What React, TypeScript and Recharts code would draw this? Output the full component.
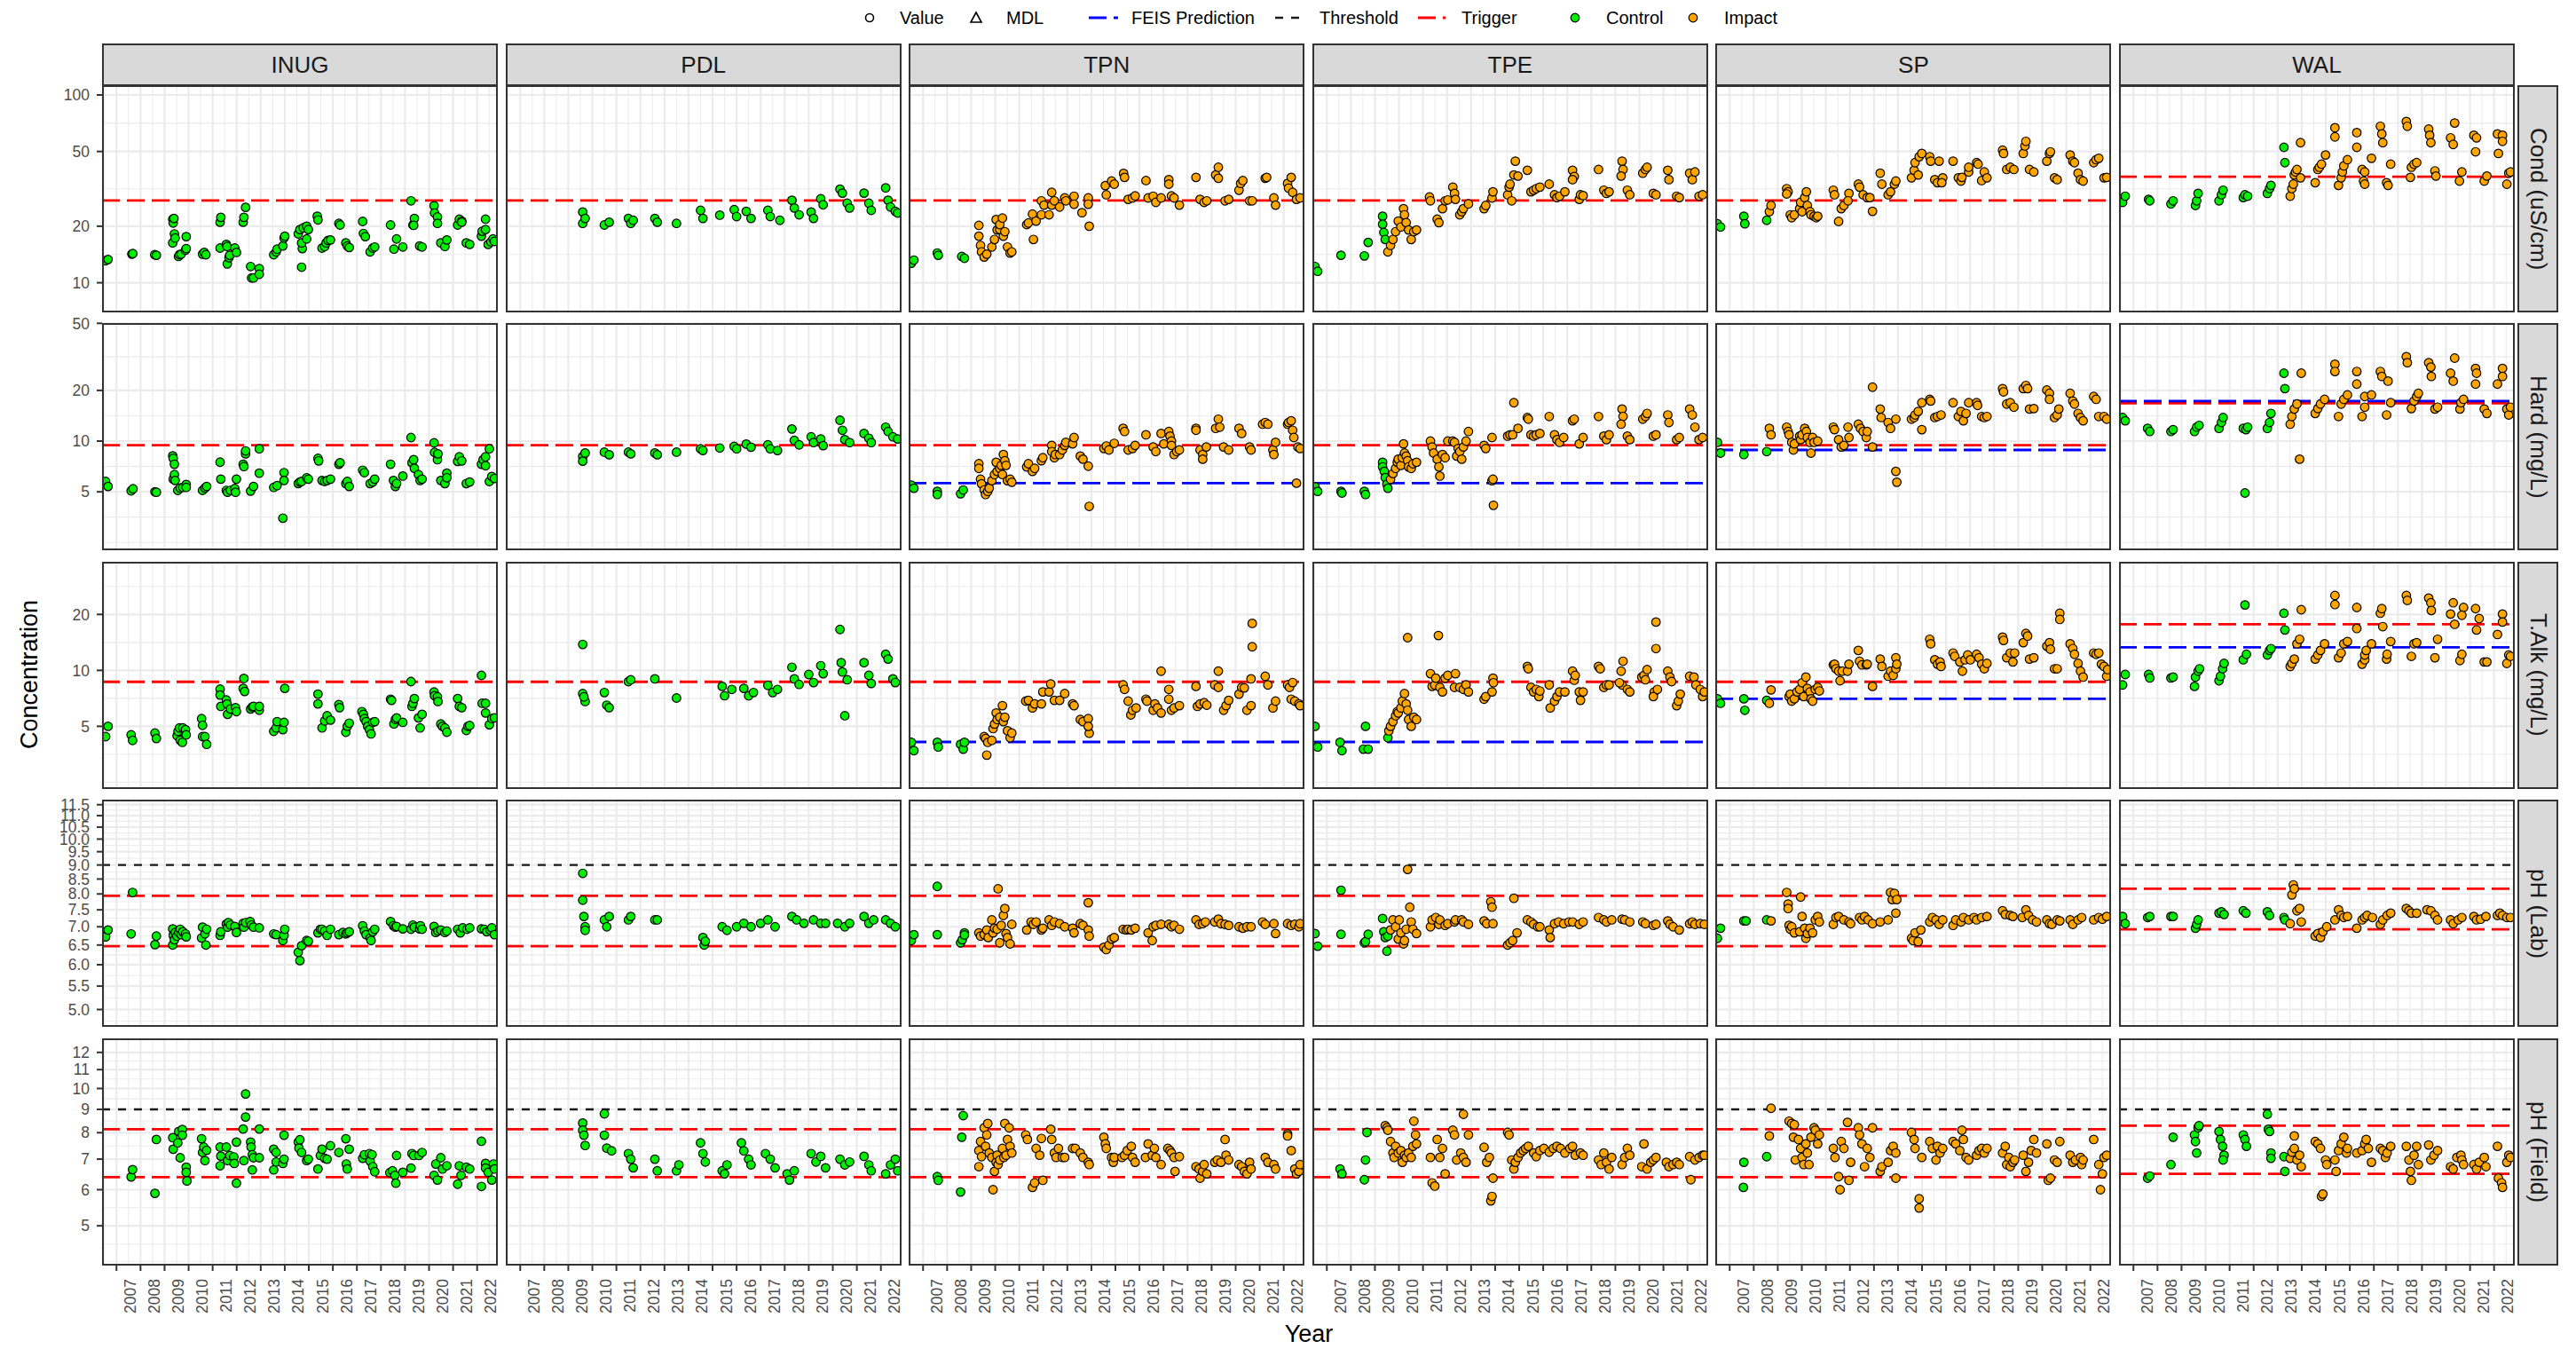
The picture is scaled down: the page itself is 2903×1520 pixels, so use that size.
import React from "react";
import { ScatterChart, Scatter, XAxis, YAxis, CartesianGrid, ReferenceLine } from "recharts";

const FONT = '"Liberation Sans", Arial, "DejaVu Sans", sans-serif';

// layout (px)
const PANEL_W = 446;
const PANEL_H = 256;
const COL_X0 = 115;
const COL_STEP = 454.6;
const ROW_Y0 = 96;
const ROW_STEP = 268.4;
const PAD_T = 14; // room above plot for edge tick labels
const PAD_R = 30; // room right of plot for the last year label

const SITES = ["INUG", "PDL", "TPN", "TPE", "SP", "WAL"];
const PARAMS = ["Cond (uS/cm)", "Hard (mg/L)", "T.Alk (mg/L)", "pH (Lab)", "pH (Field)"];

const YEARS = [2007, 2008, 2009, 2010, 2011, 2012, 2013, 2014, 2015, 2016, 2017, 2018, 2019, 2020, 2021, 2022];
const YEAR_MINOR = [2006.5, 2007.5, 2008.5, 2009.5, 2010.5, 2011.5, 2012.5, 2013.5, 2014.5, 2015.5, 2016.5, 2017.5, 2018.5, 2019.5, 2020.5, 2021.5, 2022.5];
const X_DOMAIN = [2006.4, 2022.86];
const BASE_YEAR = 2000;

// y scales (log10) per row
const COND_TICKS = [10, 20, 50, 100];
const COND_MINOR = [7.07, 14.14, 31.62, 70.71];
const HARD_TICKS = [5, 10, 20, 50];
const HARD_MINOR = [2.5, 3.54, 7.07, 14.14, 31.62];
const ALK_TICKS = [5, 10, 20];
const ALK_MINOR = [2.5, 3.54, 7.07, 14.14, 28.28];
const PHLAB_TICKS = [5.0, 5.5, 6.0, 6.5, 7.0, 7.5, 8.0, 8.5, 9.0, 9.5, 10.0, 10.5, 11.0, 11.5];
const PHLAB_MINOR = [4.77, 5.24, 5.74, 6.24, 6.74, 7.25, 7.75, 8.25, 8.75, 9.25, 9.75, 10.25, 10.75, 11.25];
const PHF_TICKS = [5, 6, 7, 8, 9, 10, 11, 12];
const PHF_MINOR = [4.17, 4.56, 5.48, 6.48, 7.48, 8.49, 9.49, 10.49, 11.49];

const ROW_DOMAINS = [[6.95, 112.7], [2.25, 50.2], [2.3, 38.4], [4.66, 11.74], [4.09, 12.88]];

// reference lines per site (INUG, PDL, TPN, TPE, SP, WAL)
const COND_TRIGGER = [27.4, 27.4, 27.4, 27.4, 27.4, 36.7];
const HARD_TRIGGER = [9.45, 9.45, 9.45, 9.45, 9.45, 16.8];
const HARD_FEIS = [null, null, 5.63, 5.63, 8.86, 17.3];
const ALK_TRIGGER = [8.68, 8.68, 8.68, 8.68, 8.68, 17.7];
const ALK_FEIS = [null, null, 4.12, 4.12, 7.03, 13.3];
const PH_THRESHOLD = [9, 9, 9, 9, 9, 9];
const PHLAB_TRIGGER_HI = [7.94, 7.94, 7.94, 7.94, 7.94, 8.17];
const PHLAB_TRIGGER_LO = [6.47, 6.47, 6.47, 6.47, 6.47, 6.93];
const PHF_TRIGGER_HI = [8.14, 8.14, 8.14, 8.14, 8.14, 8.29];
const PHF_TRIGGER_LO = [6.39, 6.39, 6.39, 6.39, 6.39, 6.5];

// observations: flat [yearOffset, value, ...], year = 2000 + offset
const INUG_COND = [6.55,13.1, 6.65,13.3, 7.64,14.2, 7.68,14.3, 8.59,14.1, 8.66,14.0, 9.34,16.3, 9.34,21.8, 9.36,20.8, 9.39,22.0, 9.41,18.2, 9.44,17.3, 9.58,13.8, 9.62,14.1, 9.69,14.2, 9.87,14.9, 9.9,15.2, 9.9,17.6, 10.58,14.2, 10.65,14.5, 10.72,14.1, 11.31,21.0, 11.34,22.3, 11.31,15.3, 11.57,16.0, 11.6,15.6, 11.61,12.6, 11.68,13.6, 11.71,14.0, 11.92,15.3, 11.99,14.5, 12.27,21.0, 12.3,22.3, 12.37,25.2, 12.58,12.2, 12.62,10.6, 12.7,10.6, 12.94,11.9, 12.94,11.1, 13.54,14.1, 13.64,14.6, 13.68,15.1, 13.92,15.7, 13.97,17.3, 14.0,17.7, 14.56,18.2, 14.63,19.2, 14.7,12.1, 14.73,15.2, 14.7,16.3, 14.77,19.6, 14.91,20.0, 14.98,19.2, 14.91,17.1, 15.35,22.6, 15.38,21.6, 15.55,15.3, 15.66,15.6, 15.72,16.3, 15.8,16.8, 15.9,16.9, 16.25,20.7, 16.3,20.3, 16.54,16.3, 16.6,15.7, 16.68,15.4, 17.24,21.2, 17.27,18.3, 17.35,17.6, 17.55,14.6, 17.66,15.3, 17.74,15.5, 18.4,20.3, 18.54,15.1, 18.65,17.1, 18.91,15.5, 19.25,27.3, 19.33,20.3, 19.39,22.0, 19.36,20.2, 19.61,15.7, 19.71,15.5, 20.21,25.7, 20.23,23.5, 20.35,22.4, 20.35,20.7, 20.49,16.3, 20.66,15.6, 20.74,16.9, 21.19,20.3, 21.26,21.8, 21.36,21.3, 21.36,21.0, 21.55,16.3, 21.69,16.0, 22.18,17.7, 22.21,18.8, 22.35,19.2, 22.35,21.8, 22.46,16.0, 22.57,16.5, 22.66,17.1, 22.72,16.6];
const INUG_HARD = [6.55,5.76, 6.65,5.38, 7.61,5.07, 7.69,5.21, 8.6,5.0, 8.66,4.97, 9.34,8.17, 9.36,7.9, 9.41,7.29, 9.36,5.95, 9.41,6.33, 9.44,5.84, 9.55,5.1, 9.65,5.27, 9.76,5.31, 9.9,5.53, 9.9,5.31, 10.58,5.1, 10.68,5.27, 10.75,5.38, 11.31,7.5, 11.34,5.95, 11.57,5.1, 11.62,4.97, 11.74,5.1, 11.92,5.23, 11.95,4.97, 11.99,5.95, 12.27,7.29, 12.3,7.06, 12.37,8.4, 12.37,8.75, 12.58,5.05, 12.7,5.38, 12.94,6.45, 12.94,9.0, 13.54,5.31, 13.68,5.44, 13.92,3.49, 13.97,6.5, 13.97,5.84, 14.56,5.6, 14.63,5.72, 14.7,5.76, 14.91,6.06, 14.98,5.95, 15.38,7.9, 15.41,7.63, 15.55,5.84, 15.66,5.76, 15.76,5.84, 15.9,5.95, 16.25,7.29, 16.3,7.44, 16.54,5.6, 16.6,5.76, 16.68,5.38, 17.24,6.72, 17.31,6.5, 17.55,5.6, 17.66,5.72, 17.74,5.95, 18.4,7.29, 18.52,5.84, 18.6,5.38, 18.65,5.6, 18.91,6.2, 19.25,10.5, 19.29,7.44, 19.36,7.76, 19.39,6.9, 19.56,6.33, 19.63,5.84, 19.71,5.95, 20.21,9.76, 20.23,8.57, 20.35,7.76, 20.37,8.4, 20.49,5.84, 20.66,5.6, 20.74,6.45, 20.74,6.06, 21.19,7.58, 21.26,8.07, 21.36,7.63, 21.55,5.6, 21.69,5.72, 22.18,7.29, 22.25,7.76, 22.35,8.07, 22.35,7.15, 22.51,9.0, 22.51,5.76, 22.61,6.17, 22.72,6.0];
const INUG_ALK = [6.55,4.4, 6.65,5.0, 7.61,4.5, 7.67,4.2, 8.6,4.6, 8.66,4.3, 9.52,4.45, 9.56,4.7, 9.62,4.9, 9.65,4.2, 9.74,4.1, 9.76,4.9, 9.87,4.8, 9.9,4.5, 10.54,5.5, 10.58,5.06, 10.58,4.4, 10.68,4.4, 10.75,4.0, 11.31,7.93, 11.31,7.37, 11.34,6.4, 11.57,6.93, 11.6,6.6, 11.62,5.8, 11.74,6.2, 11.95,6.3, 11.99,6.0, 12.3,9.05, 12.27,8.0, 12.33,7.7, 12.58,6.2, 12.65,6.35, 12.7,6.4, 12.94,6.1, 12.94,6.4, 13.54,4.7, 13.64,4.9, 13.68,5.3, 13.92,4.8, 13.97,5.25, 14.0,8.0, 15.38,7.45, 15.38,6.6, 15.55,4.9, 15.66,5.35, 15.76,5.7, 15.9,5.4, 16.25,6.55, 16.28,6.3, 16.54,4.65, 16.6,5.0, 16.68,5.2, 17.21,6.0, 17.27,5.8, 17.31,5.5, 17.38,5.3, 17.45,5.0, 17.52,4.8, 17.59,4.55, 17.66,5.25, 17.74,5.3, 18.4,7.0, 18.44,6.9, 18.54,5.15, 18.6,5.45, 18.65,5.55, 18.91,5.25, 19.25,8.7, 19.29,6.4, 19.33,6.65, 19.39,7.05, 19.56,5.55, 19.63,4.9, 19.71,5.8, 20.21,7.65, 20.23,7.3, 20.35,7.2, 20.37,6.8, 20.49,5.15, 20.56,5.0, 20.66,4.9, 20.74,4.65, 21.19,7.05, 21.26,6.4, 21.36,6.3, 21.55,4.75, 21.62,5.0, 21.69,5.05, 22.18,9.4, 22.21,6.65, 22.35,6.65, 22.35,5.9, 22.51,5.1, 22.61,5.5, 22.72,5.55];
const INUG_PHLAB = [6.55,6.72, 6.65,6.91, 7.67,8.05, 7.61,6.8, 8.6,6.51, 8.66,6.74, 9.34,6.94, 9.34,6.5, 9.36,6.76, 9.41,6.64, 9.45,6.84, 9.51,6.74, 9.59,6.84, 9.65,6.93, 9.69,6.78, 9.76,6.86, 9.87,6.8, 9.9,6.72, 10.54,6.69, 10.58,6.99, 10.68,6.8, 10.72,6.5, 10.75,6.93, 11.31,6.76, 11.34,6.86, 11.57,7.08, 11.62,6.99, 11.66,7.12, 11.74,7.05, 11.92,7.01, 11.99,6.84, 12.27,7.1, 12.3,6.99, 12.37,7.12, 12.56,7.15, 12.61,7.05, 12.7,6.99, 12.94,6.97, 13.54,6.8, 13.64,6.78, 13.92,6.62, 13.97,6.76, 14.0,6.93, 14.56,6.31, 14.63,6.1, 14.7,6.48, 14.91,6.62, 14.98,6.6, 15.38,6.83, 15.48,6.93, 15.55,6.93, 15.66,6.88, 15.76,6.76, 15.9,6.93, 16.25,6.78, 16.42,6.84, 16.54,6.8, 16.6,6.83, 16.68,6.86, 17.24,7.03, 17.31,6.88, 17.38,6.78, 17.55,6.69, 17.59,6.62, 17.66,6.86, 17.74,6.93, 18.4,7.15, 18.52,7.03, 18.6,6.99, 18.65,7.01, 18.91,6.94, 19.25,6.93, 19.33,7.05, 19.39,6.99, 19.61,6.94, 19.64,7.03, 19.71,6.93, 20.21,7.01, 20.28,6.84, 20.37,6.88, 20.49,6.91, 20.66,6.84, 20.74,6.88, 21.19,6.93, 21.3,6.83, 21.4,6.97, 21.58,6.93, 21.69,6.97, 22.18,6.94, 22.3,6.93, 22.4,6.86, 22.54,6.91, 22.61,6.97, 22.72,6.78];
const INUG_PHF = [7.61,6.4, 7.67,6.64, 8.6,5.89, 8.66,7.73, 9.34,7.8, 9.36,7.36, 9.55,7.6, 9.59,8.05, 9.65,7.05, 9.74,8.13, 9.74,7.9, 9.9,6.72, 9.9,6.55, 9.93,6.27, 10.54,7.76, 10.58,7.24, 10.63,7.44, 10.68,6.95, 10.75,7.32, 11.31,7.44, 11.34,7.11, 11.31,6.77, 11.57,7.44, 11.62,6.95, 11.71,7.13, 11.88,7.08, 11.9,6.85, 11.99,7.63, 11.99,6.2, 12.27,8.15, 12.3,6.95, 12.37,8.66, 12.37,9.73, 12.58,7.63, 12.6,7.44, 12.65,7.16, 12.7,7.05, 12.65,6.63, 12.94,8.15, 12.94,7.05, 13.54,7.36, 13.64,7.24, 13.54,6.63, 13.64,6.9, 13.92,6.85, 13.97,7.9, 13.97,7.0, 14.56,7.63, 14.59,7.4, 14.63,7.72, 14.7,7.24, 14.91,6.95, 14.98,7.0, 15.38,6.66, 15.48,7.13, 15.55,7.36, 15.66,7.03, 15.76,7.0, 15.9,7.49, 16.25,7.24, 16.54,7.76, 16.56,6.83, 16.6,6.66, 16.68,7.36, 17.24,7.03, 17.31,7.16, 17.52,7.2, 17.55,6.93, 17.63,7.16, 17.66,6.74, 17.74,6.57, 18.37,6.54, 18.48,6.6, 18.58,6.45, 18.65,7.13, 18.62,6.2, 18.91,6.55, 19.25,6.69, 19.29,7.2, 19.36,7.13, 19.58,7.13, 19.71,7.24, 20.21,6.45, 20.35,6.3, 20.28,6.83, 20.49,7.05, 20.56,6.66, 20.74,6.77, 21.19,6.17, 21.26,6.77, 21.33,6.45, 21.55,6.72, 21.69,6.66, 22.18,6.1, 22.18,7.66, 22.35,6.85, 22.35,6.69, 22.46,6.55, 22.61,6.3, 22.68,6.83, 22.72,6.66];

const PDL_COND = [9.6,23.8, 9.6,20.7, 9.7,22.0, 10.5,20.3, 10.7,21.0, 11.5,22.0, 11.6,20.7, 11.7,21.5, 12.6,22.0, 12.7,21.0, 13.5,20.7, 14.5,24.3, 14.6,22.0, 15.3,22.9, 15.9,24.5, 16.0,22.5, 16.4,24.0, 16.6,22.0, 17.3,24.3, 17.4,22.5, 17.8,21.5, 18.3,27.5, 18.4,25.0, 18.6,23.0, 19.1,23.8, 19.2,22.0, 19.5,28.0, 19.6,26.0, 20.3,31.5, 20.4,30.0, 20.6,26.5, 20.7,25.0, 21.3,30.0, 21.5,26.5, 21.6,24.3, 22.2,32.0, 22.3,27.5, 22.4,25.3, 22.6,24.0, 22.7,23.5];
const PDL_HARD = [9.6,8.1, 9.6,7.6, 9.7,8.5, 10.5,8.6, 10.7,8.3, 11.5,8.6, 11.6,8.4, 12.6,8.5, 12.7,8.3, 13.5,8.6, 14.5,9.0, 14.6,8.8, 15.3,9.1, 15.9,9.3, 16.0,9.0, 16.4,9.6, 16.6,9.2, 17.3,9.5, 17.4,9.0, 17.7,8.8, 18.3,11.8, 18.4,10.1, 18.6,9.5, 19.1,10.6, 19.2,9.8, 19.5,10.3, 19.6,9.4, 20.3,13.3, 20.4,11.6, 20.5,10.2, 20.7,9.8, 21.3,11.1, 21.5,10.4, 21.6,9.8, 22.2,12.1, 22.3,11.4, 22.5,10.6, 22.7,10.3];
const PDL_ALK = [9.6,13.8, 9.6,7.5, 9.7,6.8, 9.65,7.2, 10.5,7.6, 10.6,6.5, 10.7,6.3, 11.5,8.7, 11.6,8.9, 12.6,9.0, 13.5,7.1, 15.4,8.2, 15.5,7.3, 15.8,7.9, 16.3,8.0, 16.5,7.3, 16.7,7.6, 17.3,8.3, 17.5,7.6, 17.7,7.9, 18.3,10.4, 18.4,9.0, 18.6,8.4, 19.0,9.5, 19.2,8.6, 19.5,10.6, 19.6,9.6, 20.3,16.6, 20.35,11.0, 20.4,9.8, 20.5,5.7, 20.6,8.9, 21.3,11.0, 21.5,9.4, 21.6,8.5, 22.2,12.2, 22.3,11.5, 22.5,9.0, 22.6,8.6];
const PDL_PHLAB = [9.6,8.7, 9.6,7.8, 9.65,7.3, 9.7,7.0, 9.7,6.9, 10.5,7.2, 10.6,7.0, 10.7,7.3, 11.5,7.2, 11.6,7.3, 12.6,7.2, 12.7,7.2, 14.6,6.7, 14.65,6.5, 14.7,6.6, 15.4,7.0, 15.6,6.9, 16.0,7.0, 16.3,7.1, 16.6,7.0, 17.0,7.1, 17.3,7.2, 17.6,7.0, 18.3,7.3, 18.5,7.2, 18.8,7.1, 19.2,7.2, 19.5,7.1, 19.7,7.1, 20.2,7.1, 20.5,7.0, 20.7,7.1, 21.3,7.3, 21.5,7.1, 21.7,7.2, 22.2,7.2, 22.4,7.1, 22.6,7.0];
const PDL_PHF = [9.6,8.4, 9.6,8.1, 9.65,7.9, 9.7,7.5, 10.5,8.8, 10.5,7.9, 10.6,7.4, 10.8,7.3, 11.5,7.2, 11.6,7.0, 11.7,6.7, 12.6,7.0, 12.7,6.6, 13.5,6.6, 13.6,6.8, 14.5,7.6, 14.6,7.2, 14.7,6.9, 15.4,6.6, 15.5,6.5, 15.6,6.8, 16.2,7.6, 16.3,7.3, 16.5,7.0, 16.6,6.8, 17.2,7.2, 17.4,7.0, 17.6,6.7, 18.1,6.5, 18.2,6.3, 18.4,6.6, 19.1,7.2, 19.3,6.9, 19.5,7.1, 19.7,6.7, 20.3,7.0, 20.5,6.8, 20.7,6.9, 21.3,7.1, 21.5,6.8, 21.6,6.6, 22.2,6.5, 22.4,6.8, 22.6,7.0, 22.7,6.6];

const TPN_COND_C = [6.51,12.7, 6.62,13.2, 7.59,14.4, 7.63,14.0, 8.61,13.8, 8.72,13.5];
const TPN_COND_I = [9.32,20.2, 9.32,17.7, 9.39,15.8, 9.43,14.6, 9.54,13.7, 9.65,14.2, 9.86,15.5, 9.97,17.0, 10.04,21.7, 10.08,19.1, 10.19,19.2, 10.19,20.4, 10.3,22.1, 10.34,17.7, 10.4,18.7, 10.51,15.5, 10.62,14.4, 10.69,14.6, 11.31,20.4, 11.38,20.8, 11.55,23.2, 11.59,17.0, 11.7,21.3, 11.92,23.0, 11.92,27.3, 12.03,25.9, 12.24,23.0, 12.35,30.3, 12.35,25.9, 12.46,27.3, 12.68,25.3, 12.89,28.3, 12.94,27.3, 13.28,28.9, 13.28,26.2, 13.61,23.6, 13.87,28.3, 13.87,26.2, 13.91,20.0, 14.58,32.9, 14.62,29.4, 14.84,34.8, 14.95,33.5, 15.34,38.2, 15.38,36.4, 15.53,27.8, 15.71,28.3, 15.82,29.0, 16.27,35.0, 16.36,28.3, 16.57,28.9, 16.68,26.8, 16.9,28.3, 17.22,35.4, 17.22,33.5, 17.33,29.0, 17.44,28.3, 17.66,25.9, 18.35,36.4, 18.52,27.8, 18.69,26.8, 18.8,27.3, 19.17,37.5, 19.28,41.2, 19.28,36.0, 19.56,27.3, 19.71,27.8, 20.14,31.1, 20.21,33.8, 20.3,35.0, 20.58,27.3, 20.69,27.3, 21.23,36.0, 21.29,36.4, 21.59,28.3, 21.66,25.9, 22.16,33.8, 22.2,31.9, 22.31,36.4, 22.37,30.3, 22.53,27.8, 22.68,28.3];
const TPN_HARD_C = [6.51,5.47, 6.62,5.25, 7.59,5.03, 7.59,4.82, 8.56,4.87, 8.67,5.13];
const TPN_HARD_I = [9.32,7.34, 9.32,6.89, 9.39,5.94, 9.43,5.58, 9.54,5.13, 9.6,4.82, 9.69,5.03, 9.75,5.25, 9.86,5.82, 9.97,6.33, 10.04,7.49, 10.08,6.61, 10.19,6.89, 10.25,7.18, 10.3,6.33, 10.34,8.32, 10.4,7.65, 10.45,7.18, 10.51,5.82, 10.62,5.94, 10.69,5.7, 11.31,7.03, 11.38,7.34, 11.55,6.61, 11.64,6.89, 11.92,7.65, 11.98,7.97, 12.35,9.43, 12.35,8.67, 12.46,7.97, 12.5,8.32, 12.68,8.32, 12.79,8.86, 12.89,9.43, 12.94,9.83, 13.22,9.63, 13.28,10.5, 13.54,8.15, 13.65,7.81, 13.87,7.1, 13.91,4.1, 14.52,9.04, 14.62,9.35, 14.73,8.86, 14.95,9.7, 15.32,11.9, 15.38,11.4, 15.53,8.86, 15.71,9.04, 15.82,9.43, 16.27,10.9, 16.57,9.23, 16.68,8.67, 16.9,11.1, 17.01,9.63, 17.22,11.4, 17.27,10.7, 17.33,10.0, 17.33,9.43, 17.44,8.32, 17.55,8.67, 17.66,8.86, 18.35,11.9, 18.35,11.6, 18.52,8.86, 18.63,8.32, 18.63,7.81, 18.78,9.23, 19.17,11.9, 19.28,13.5, 19.34,12.1, 19.5,9.23, 19.71,8.86, 20.14,11.9, 20.25,11.1, 20.58,9.23, 20.64,8.86, 21.12,12.6, 21.23,12.9, 21.34,12.6, 21.55,8.86, 21.59,8.32, 21.66,9.83, 22.16,12.6, 22.2,12.9, 22.31,13.2, 22.37,11.6, 22.42,10.5, 22.53,5.63, 22.59,9.23, 22.68,9.04];
const TPN_ALK_C = [6.51,4.1, 6.62,3.7, 7.59,4.1, 7.63,3.87, 8.56,4.0, 8.67,3.77, 8.72,4.1];
const TPN_ALK_I = [9.54,4.4, 9.6,4.3, 9.65,3.5, 9.69,4.1, 9.86,4.2, 9.91,4.86, 9.97,5.14, 10.04,5.9, 10.08,5.44, 10.19,5.6, 10.3,6.46, 10.34,5.3, 10.4,5.6, 10.51,4.73, 10.62,4.34, 10.69,4.6, 11.27,6.83, 11.38,6.9, 11.55,6.28, 11.64,6.6, 11.92,6.6, 11.98,7.66, 12.24,7.66, 12.31,8.45, 12.46,6.9, 12.68,6.9, 12.89,7.5, 13.22,6.6, 13.28,6.46, 13.54,5.44, 13.65,5.3, 13.87,5.5, 13.91,4.59, 13.87,5.0, 15.32,8.35, 15.38,7.9, 15.53,6.83, 15.64,5.76, 15.71,6.1, 15.86,6.28, 16.27,7.0, 16.31,6.83, 16.57,6.1, 16.64,6.6, 16.75,6.28, 16.9,9.9, 16.9,5.9, 17.22,7.9, 17.22,7.0, 17.33,6.1, 17.44,6.28, 17.66,6.46, 18.35,8.2, 18.41,6.4, 18.52,6.6, 18.69,6.7, 18.8,6.5, 19.13,8.35, 19.28,9.9, 19.28,8.1, 19.5,6.1, 19.6,6.46, 19.71,6.9, 20.14,7.45, 20.25,8.1, 20.36,8.05, 20.47,6.1, 20.64,6.46, 20.69,17.9, 20.69,13.4, 20.64,9.0, 21.23,9.3, 21.34,8.35, 21.55,6.28, 21.66,6.83, 22.16,8.35, 22.24,8.1, 22.37,8.6, 22.31,7.0, 22.46,6.83, 22.63,6.6, 22.68,6.46];
const TPN_PHLAB_C = [6.51,6.62, 6.62,6.78, 7.59,8.25, 7.59,6.78, 8.56,6.56, 8.63,6.64, 8.72,6.83, 8.72,6.77];
const TPN_PHLAB_I = [9.32,6.83, 9.39,6.74, 9.54,6.78, 9.65,6.91, 9.71,6.7, 9.86,7.2, 9.91,6.83, 9.97,6.96, 10.08,6.93, 10.12,8.17, 10.19,6.56, 10.25,7.04, 10.34,7.33, 10.4,7.54, 10.45,6.81, 10.51,6.7, 10.62,6.53, 10.69,7.07, 11.31,6.91, 11.49,7.14, 11.59,7.07, 11.7,7.14, 11.92,6.91, 11.98,6.96, 12.24,7.2, 12.35,7.04, 12.46,7.14, 12.68,7.09, 12.89,7.0, 13.22,6.96, 13.28,6.83, 13.54,7.09, 13.65,7.04, 13.87,7.72, 13.87,6.91, 13.91,6.74, 14.52,6.44, 14.62,6.38, 14.73,6.5, 14.84,6.66, 14.95,6.7, 15.32,6.93, 15.45,6.91, 15.53,6.93, 15.66,6.91, 15.82,6.96, 16.36,6.83, 16.53,6.62, 16.57,7.0, 16.68,7.04, 16.9,7.07, 17.22,7.07, 17.33,7.0, 17.44,7.04, 17.66,6.93, 18.35,7.2, 18.48,7.07, 18.63,7.09, 18.74,7.14, 19.13,7.14, 19.28,7.22, 19.39,7.09, 19.56,7.07, 19.71,7.04, 20.14,7.0, 20.3,6.96, 20.47,7.0, 20.64,7.0, 21.12,7.14, 21.23,7.07, 21.59,7.09, 21.66,6.81, 22.16,7.09, 22.31,7.04, 22.46,7.07, 22.63,7.0, 22.68,7.09];
const TPN_PHF_C = [7.59,6.41, 7.63,6.29, 8.56,5.93, 8.67,8.72, 8.61,7.82];
const TPN_PHF_I = [9.32,6.74, 9.32,7.31, 9.39,7.65, 9.43,7.09, 9.54,8.2, 9.6,7.47, 9.65,7.91, 9.69,8.38, 9.75,7.22, 9.86,7.06, 9.91,6.0, 9.97,6.58, 10.04,6.89, 10.08,7.14, 10.12,6.81, 10.19,6.97, 10.3,7.39, 10.36,7.06, 10.4,8.38, 10.45,7.14, 10.51,7.73, 10.58,8.2, 10.62,7.47, 10.69,7.22, 11.27,7.91, 11.34,7.73, 11.55,6.07, 11.64,6.21, 11.7,7.39, 11.85,7.14, 11.92,7.77, 11.98,6.29, 12.31,8.14, 12.35,7.73, 12.46,7.22, 12.53,7.06, 12.63,7.39, 12.79,7.06, 12.89,7.06, 13.22,7.39, 13.33,7.39, 13.54,7.22, 13.65,7.06, 13.87,6.89, 13.91,6.81, 14.52,7.82, 14.58,7.56, 14.62,7.39, 14.84,7.06, 14.91,6.89, 14.95,7.06, 15.27,7.06, 15.38,7.14, 15.49,7.31, 15.66,7.47, 15.71,7.06, 15.82,6.89, 16.25,7.06, 16.36,7.56, 16.53,7.14, 16.62,7.39, 16.68,7.06, 16.9,6.81, 17.18,7.39, 17.27,7.31, 17.33,7.22, 17.44,7.06, 17.48,6.58, 17.66,7.09, 18.35,6.74, 18.48,6.66, 18.52,6.36, 18.63,6.58, 18.69,6.81, 18.8,6.5, 19.13,6.89, 19.24,6.97, 19.39,6.89, 19.56,7.73, 19.6,7.14, 19.71,6.97, 20.14,6.81, 20.25,6.74, 20.36,6.58, 20.47,6.5, 20.58,6.89, 20.64,6.66, 21.23,7.06, 21.34,6.89, 21.59,6.81, 21.66,6.66, 22.16,7.95, 22.16,7.87, 22.31,7.31, 22.46,6.66, 22.53,6.5, 22.63,6.58, 22.68,6.81];

const TPE_COND_C = [6.51,12.2, 6.62,11.5, 7.59,14.0, 8.56,13.9, 8.72,16.4, 9.32,22.6, 9.32,20.5, 9.37,18.5, 9.43,17.0];
const TPE_COND_I = [9.54,14.6, 9.65,15.8, 9.75,17.0, 9.86,18.7, 9.97,21.3, 10.08,19.8, 10.19,24.8, 10.23,23.0, 10.3,20.9, 10.4,19.1, 10.51,17.0, 10.62,18.7, 10.73,19.1, 11.27,28.6, 11.31,27.3, 11.59,21.8, 11.66,20.9, 11.81,24.8, 11.92,27.3, 12.03,27.6, 12.24,32.3, 12.31,29.9, 12.35,27.8, 12.53,23.0, 12.61,23.9, 12.68,24.8, 12.89,26.3, 13.54,24.8, 13.61,25.8, 13.87,28.3, 13.91,30.5, 14.52,29.4, 14.58,32.3, 14.62,33.5, 14.69,27.3, 14.78,37.5, 14.84,44.4, 14.95,37.0, 15.34,39.7, 15.49,30.5, 15.6,31.1, 15.71,31.7, 15.86,32.3, 16.25,33.5, 16.47,29.4, 16.57,28.4, 16.68,28.9, 16.9,30.5, 17.22,39.7, 17.29,36.8, 17.22,35.4, 17.5,27.8, 17.55,29.4, 17.66,29.1, 18.3,40.1, 18.52,31.1, 18.63,29.9, 18.74,30.5, 19.28,44.4, 19.32,40.1, 19.24,37.0, 19.5,31.1, 19.6,29.4, 20.14,38.3, 20.25,40.1, 20.32,41.2, 20.58,29.9, 20.69,29.4, 21.18,39.7, 21.23,35.4, 21.55,28.9, 21.66,28.4, 22.09,38.3, 22.2,35.4, 22.31,38.9, 22.48,28.9, 22.63,29.4];
const TPE_HARD_C = [6.51,5.35, 6.62,5.03, 7.59,5.03, 7.63,4.92, 8.56,5.03, 8.61,4.82, 9.32,7.49, 9.32,7.03, 9.39,6.61, 9.43,6.07, 9.5,5.55, 9.54,5.25];
const TPE_HARD_I = [9.65,5.94, 9.75,6.42, 9.86,6.89, 9.93,7.49, 9.97,7.81, 10.08,7.18, 10.14,7.97, 10.23,8.49, 10.3,8.15, 10.36,7.65, 10.4,7.03, 10.51,6.89, 10.58,7.34, 10.73,7.49, 10.19,9.63, 11.31,10.0, 11.38,9.23, 11.44,8.49, 11.59,7.81, 11.66,7.03, 11.7,6.2, 11.81,8.32, 11.92,7.97, 12.03,10.0, 12.24,10.0, 12.31,9.83, 12.4,8.15, 12.46,9.04, 12.53,8.67, 12.61,7.81, 12.68,9.23, 12.79,10.0, 12.89,11.4, 13.54,9.43, 13.61,9.04, 13.87,5.82, 13.91,5.94, 13.93,4.16, 13.87,10.5, 14.52,10.7, 14.62,10.9, 14.73,10.9, 14.78,16.9, 14.95,11.9, 15.34,13.8, 15.38,13.5, 15.49,10.9, 15.6,10.7, 15.71,10.9, 15.86,11.1, 16.25,14.0, 16.47,10.9, 16.57,10.2, 16.68,9.83, 16.85,10.5, 17.22,13.2, 17.29,13.5, 17.5,9.63, 17.66,10.5, 18.3,14.0, 18.52,10.7, 18.63,10.2, 18.74,10.9, 19.28,15.5, 19.32,14.0, 19.24,12.6, 19.5,10.7, 19.6,10.2, 20.14,13.5, 20.25,14.0, 20.32,14.6, 20.58,10.7, 20.69,10.9, 21.18,14.3, 21.23,12.9, 21.55,10.2, 21.66,10.5, 22.09,15.5, 22.2,14.3, 22.31,12.1, 22.48,10.2, 22.63,10.5];
const TPE_ALK_C = [6.51,5.0, 6.62,3.87, 7.55,4.1, 7.63,3.7, 8.52,3.77, 8.61,5.0, 8.72,3.77, 9.54,4.34];
const TPE_ALK_I = [9.58,4.73, 9.65,5.0, 9.75,5.3, 9.86,5.7, 9.93,6.0, 9.97,5.9, 10.08,6.28, 10.14,6.83, 10.23,7.5, 10.3,6.6, 10.36,6.1, 10.4,5.44, 10.51,5.0, 10.62,5.6, 10.73,5.44, 10.36,15.0, 11.31,9.6, 11.38,8.2, 11.49,8.35, 11.53,9.08, 11.64,15.4, 11.7,8.1, 11.81,7.66, 11.92,9.08, 12.03,9.4, 12.35,9.6, 12.31,8.1, 12.53,8.1, 12.68,7.9, 12.79,8.35, 12.89,7.66, 13.54,7.0, 13.61,7.23, 13.87,7.66, 13.91,9.08, 13.93,8.58, 15.34,10.5, 15.38,10.2, 15.49,8.1, 15.6,7.66, 15.71,7.9, 15.82,7.23, 15.86,7.75, 16.25,8.35, 16.29,6.28, 16.47,6.83, 16.57,7.23, 16.68,7.66, 16.9,7.66, 17.22,9.9, 17.29,8.85, 17.33,9.4, 17.5,7.66, 17.55,6.9, 17.66,7.66, 18.3,10.5, 18.37,10.2, 18.52,8.1, 18.63,8.35, 18.74,8.35, 19.24,9.9, 19.32,11.2, 19.28,8.35, 19.17,8.58, 19.5,7.9, 19.6,7.66, 20.1,9.2, 20.19,9.4, 20.32,10.1, 20.25,8.9, 20.69,18.2, 20.69,13.1, 20.62,7.66, 20.58,7.23, 20.75,7.9, 21.18,9.9, 21.27,9.2, 21.34,8.7, 21.55,6.46, 21.62,6.83, 21.7,7.45, 22.09,9.3, 22.27,9.2, 22.35,8.35, 22.53,7.9, 22.63,7.23, 22.7,7.66];
const TPE_PHLAB_C = [6.51,6.81, 6.62,6.47, 7.59,8.12, 7.59,6.79, 8.56,6.56, 8.61,6.59, 8.72,6.79, 9.32,7.24, 9.37,6.86, 9.43,6.7, 9.5,6.34, 9.54,6.74];
const TPE_PHLAB_I = [9.65,6.91, 9.75,7.2, 9.86,7.0, 9.97,6.66, 10.01,7.2, 10.08,6.83, 10.19,6.53, 10.23,6.62, 10.3,6.93, 10.36,8.84, 10.45,7.58, 10.51,7.14, 10.58,6.93, 10.73,6.81, 11.31,7.0, 11.38,7.2, 11.53,7.27, 11.66,7.07, 11.7,7.2, 11.92,7.04, 12.03,7.09, 12.31,7.14, 12.35,7.2, 12.61,7.2, 12.68,7.14, 12.89,7.07, 13.54,7.17, 13.65,7.09, 13.82,7.75, 13.87,7.58, 13.91,7.09, 14.52,6.5, 14.62,6.56, 14.73,6.62, 14.78,7.86, 14.91,6.83, 15.34,7.2, 15.49,7.14, 15.6,7.07, 15.77,7.0, 15.86,7.0, 16.25,6.91, 16.29,6.7, 16.47,7.09, 16.64,7.14, 16.85,7.09, 17.07,7.14, 17.22,7.14, 17.5,7.07, 17.66,7.14, 18.3,7.27, 18.52,7.2, 18.63,7.14, 18.85,7.2, 19.28,7.22, 19.39,7.2, 19.6,7.14, 20.14,7.14, 20.25,7.09, 20.58,7.04, 20.69,7.07, 21.18,7.17, 21.27,7.07, 21.4,7.0, 21.66,6.91, 22.09,7.09, 22.2,7.14, 22.31,7.07, 22.53,7.09, 22.7,7.07];
const TPE_PHF_C = [7.55,6.66, 7.63,6.5, 8.56,6.31, 8.61,6.97, 8.67,8.01];
const TPE_PHF_I = [9.43,8.29, 9.5,8.2, 9.54,8.1, 9.65,7.65, 9.75,7.22, 9.8,7.06, 9.86,7.47, 9.97,7.22, 10.08,7.31, 10.14,6.89, 10.23,7.14, 10.3,7.06, 10.4,7.22, 10.51,7.06, 10.58,7.47, 10.62,8.48, 10.69,7.91, 10.73,7.56, 11.31,7.06, 11.38,6.21, 11.49,6.11, 11.59,7.73, 11.7,7.06, 11.81,7.39, 11.92,6.5, 12.24,8.1, 12.31,7.91, 12.4,6.97, 12.57,7.22, 12.68,7.06, 12.79,6.89, 12.68,8.78, 12.89,7.91, 13.54,7.43, 13.65,6.89, 13.76,7.06, 13.82,5.67, 13.87,5.8, 13.91,6.36, 14.52,8.01, 14.58,7.91, 14.69,6.97, 14.78,6.66, 14.84,6.89, 14.95,7.06, 15.06,7.22, 15.17,7.31, 15.27,7.39, 15.38,7.47, 15.6,7.22, 15.71,7.09, 15.86,7.31, 16.03,7.39, 16.25,7.25, 16.42,7.39, 16.57,7.47, 16.72,7.39, 16.9,7.22, 17.11,7.39, 17.22,7.47, 17.33,7.14, 17.55,7.22, 17.66,7.14, 18.3,6.97, 18.41,6.81, 18.52,7.22, 18.63,6.89, 18.74,6.66, 18.85,7.06, 19.28,6.81, 19.39,7.06, 19.5,7.39, 19.6,7.14, 20.1,6.74, 20.19,7.56, 20.32,6.66, 20.47,6.89, 20.58,6.97, 20.69,7.06, 21.12,6.89, 21.23,6.74, 21.4,6.81, 21.55,6.89, 21.66,6.81, 22.09,7.09, 22.14,6.31, 22.31,6.97, 22.48,7.06, 22.63,7.14, 22.7,7.14];

const SP_COND_C = [6.49,20.6, 6.62,19.8, 7.59,22.6, 7.63,20.6, 8.54,21.5];
const SP_COND_I = [8.65,23.9, 8.72,25.8, 9.37,31.7, 9.43,30.5, 9.37,29.7, 9.52,23.0, 9.58,22.2, 9.69,23.0, 9.91,24.8, 9.95,26.8, 10.01,23.9, 10.12,28.4, 10.19,30.5, 10.23,25.8, 10.34,23.9, 10.38,23.0, 10.51,22.6, 10.6,22.2, 10.66,22.6, 11.31,31.1, 11.36,29.4, 11.53,21.2, 11.64,24.8, 11.75,25.8, 11.96,29.9, 11.92,27.3, 12.35,33.5, 12.4,32.3, 12.55,29.4, 12.72,28.4, 12.83,28.4, 12.94,24.0, 13.26,38.3, 13.33,33.5, 13.59,29.4, 13.69,30.5, 13.85,33.5, 13.91,34.8, 14.56,36.2, 14.67,39.7, 14.71,43.6, 14.84,37.5, 14.88,46.9, 14.99,48.8, 15.32,46.9, 15.36,44.4, 15.53,35.4, 15.64,34.1, 15.71,44.4, 15.86,36.2, 15.82,34.1, 16.29,44.4, 16.51,36.2, 16.62,34.8, 16.66,36.4, 16.94,38.9, 16.94,41.2, 17.27,43.6, 17.33,42.8, 17.48,35.0, 17.59,38.9, 17.7,36.2, 18.35,50.8, 18.39,48.8, 18.52,40.1, 18.67,41.2, 18.82,40.1, 19.21,48.8, 19.28,53.5, 19.32,56.6, 19.47,40.1, 19.65,38.9, 20.19,44.4, 20.3,48.8, 20.34,49.8, 20.51,36.2, 20.62,35.4, 21.16,47.9, 21.27,44.4, 21.34,43.6, 21.49,38.3, 21.59,35.4, 21.7,34.8, 22.14,43.6, 22.24,45.2, 22.35,46.0, 22.57,36.2, 22.68,36.4];
const SP_HARD_C = [6.49,9.83, 6.62,8.49, 7.59,8.32, 8.54,8.67];
const SP_HARD_I = [8.65,11.9, 8.72,10.9, 9.37,12.1, 9.43,11.4, 9.47,10.9, 9.58,9.83, 9.65,8.86, 9.69,9.63, 9.91,10.7, 9.95,10.2, 10.01,10.9, 10.12,11.9, 10.19,11.4, 10.23,10.5, 10.34,9.83, 10.38,8.49, 10.45,10.5, 10.51,9.83, 10.66,10.0, 11.31,12.1, 11.36,11.7, 11.53,10.2, 11.64,9.23, 11.75,9.43, 11.96,10.5, 11.92,12.1, 12.35,12.6, 12.44,11.9, 12.55,11.4, 12.68,10.5, 12.72,11.4, 12.94,20.9, 12.94,9.23, 13.26,15.5, 13.3,13.8, 13.59,12.9, 13.69,11.9, 13.91,13.5, 13.91,6.61, 13.95,5.7, 14.56,13.5, 14.67,13.8, 14.71,14.3, 14.84,15.0, 14.99,11.7, 14.99,16.9, 15.32,17.7, 15.36,17.3, 15.53,13.8, 15.64,14.0, 15.79,14.3, 16.29,16.9, 16.51,14.0, 16.62,15.0, 16.72,13.2, 16.83,14.6, 16.94,16.9, 17.27,16.9, 17.31,16.3, 17.48,14.0, 17.59,13.8, 17.7,14.0, 18.35,20.5, 18.39,19.6, 18.52,16.6, 18.67,16.9, 18.82,15.9, 19.21,20.5, 19.32,21.4, 19.39,20.5, 19.47,15.5, 19.65,15.6, 20.19,20.1, 20.3,19.2, 20.3,17.7, 20.51,13.8, 20.62,14.3, 20.69,15.5, 21.16,19.2, 21.27,17.3, 21.34,16.6, 21.49,14.6, 21.59,13.8, 21.7,13.2, 22.14,18.4, 22.24,17.7, 22.35,14.0, 22.57,14.0, 22.68,13.5];
const SP_ALK_C = [6.49,7.03, 6.62,6.65, 7.59,7.03, 7.63,6.1, 8.54,6.9];
const SP_ALK_I = [8.65,6.65, 8.72,7.85, 9.47,7.23, 9.52,7.45, 9.58,6.83, 9.69,7.03, 9.8,7.66, 9.91,7.9, 10.01,8.58, 10.08,7.23, 10.17,9.2, 10.23,8.0, 10.34,7.66, 10.38,7.03, 10.45,6.83, 10.56,7.9, 10.66,8.1, 10.73,7.75, 11.31,10.7, 11.36,10.8, 11.42,10.2, 11.59,8.8, 11.53,9.9, 11.68,9.9, 11.9,9.9, 11.96,10.8, 12.35,12.8, 12.4,11.2, 12.5,10.7, 12.68,10.7, 12.72,10.8, 12.94,8.2, 13.26,11.5, 13.33,10.5, 13.59,9.3, 13.69,9.9, 13.8,9.4, 13.91,10.2, 13.91,11.7, 13.95,10.8, 15.32,14.7, 15.36,13.9, 15.53,11.4, 15.64,10.8, 15.75,11.1, 15.79,10.5, 16.29,12.4, 16.36,11.9, 16.57,11.1, 16.68,9.9, 16.79,11.4, 16.9,12.1, 17.01,11.4, 17.27,12.2, 17.37,11.7, 17.48,10.8, 17.59,10.2, 17.7,10.9, 18.35,15.1, 18.39,14.5, 18.52,11.7, 18.67,12.4, 18.78,11.1, 18.85,12.4, 19.21,14.1, 19.32,15.8, 19.39,15.3, 19.47,11.5, 19.65,11.7, 20.19,13.5, 20.3,14.1, 20.34,13.0, 20.51,10.2, 20.62,10.2, 20.73,20.3, 20.73,18.8, 21.16,13.9, 21.27,13.1, 21.34,12.2, 21.49,10.9, 21.59,9.9, 21.7,9.2, 22.14,12.4, 22.24,12.2, 22.35,12.4, 22.46,10.8, 22.57,10.5, 22.68,9.3, 22.72,10.1];
const SP_PHLAB_C = [6.49,6.68, 6.62,6.96, 7.59,7.17, 7.68,7.17, 8.54,7.2];
const SP_PHLAB_I = [8.72,7.17, 9.37,8.05, 9.43,7.68, 9.43,7.54, 9.47,7.04, 9.52,6.93, 9.58,7.0, 9.69,6.83, 9.91,6.86, 9.95,7.9, 10.01,7.3, 10.12,6.96, 10.17,6.68, 10.23,6.81, 10.34,6.96, 10.45,6.83, 10.56,7.2, 10.66,7.3, 10.73,7.14, 11.31,7.07, 11.42,7.27, 11.53,7.3, 11.75,7.2, 11.96,7.14, 12.03,7.09, 12.4,7.27, 12.5,7.2, 12.61,7.3, 12.76,7.2, 12.94,7.09, 13.26,7.14, 13.59,7.2, 13.69,8.05, 13.76,7.82, 13.85,8.02, 13.91,7.4, 13.95,7.82, 14.56,6.68, 14.63,6.62, 14.71,6.83, 14.84,6.59, 14.95,6.91, 15.32,7.14, 15.43,7.27, 15.58,7.2, 15.71,7.07, 15.86,7.2, 16.29,7.04, 16.4,7.2, 16.62,7.14, 16.72,7.27, 16.94,7.2, 17.16,7.27, 17.27,7.2, 17.48,7.27, 17.7,7.3, 18.35,7.47, 18.46,7.36, 18.67,7.33, 18.78,7.3, 19.17,7.27, 19.32,7.5, 19.43,7.33, 19.6,7.2, 19.76,7.14, 20.19,7.2, 20.3,7.09, 20.4,7.07, 20.62,7.2, 20.73,7.17, 21.16,7.2, 21.27,7.07, 21.49,7.2, 21.64,7.27, 22.14,7.2, 22.35,7.27, 22.5,7.22, 22.68,7.3];
const SP_PHF_C = [7.59,6.89, 7.57,6.07, 8.54,7.09];
const SP_PHF_I = [8.72,9.05, 8.65,7.87, 9.47,8.48, 9.58,8.38, 9.65,7.82, 9.69,8.33, 9.73,6.97, 9.86,7.73, 9.95,7.39, 10.01,7.06, 10.08,6.81, 10.17,7.56, 10.23,7.22, 10.3,6.81, 10.38,7.82, 10.51,8.2, 10.56,8.1, 10.66,7.56, 10.73,7.91, 11.31,7.39, 11.38,7.06, 11.53,6.41, 11.59,6.0, 11.64,7.65, 11.75,7.39, 11.9,8.43, 11.96,6.29, 12.03,6.89, 12.35,8.2, 12.4,7.91, 12.5,7.56, 12.61,6.74, 12.72,7.39, 12.83,7.06, 12.94,8.2, 13.26,6.58, 13.33,6.74, 13.59,6.89, 13.69,7.31, 13.8,7.47, 13.91,7.22, 13.91,6.36, 14.56,8.01, 14.67,7.73, 14.71,7.39, 14.88,5.73, 14.88,5.47, 14.99,7.06, 15.32,7.65, 15.43,7.39, 15.58,6.97, 15.64,7.47, 15.75,7.22, 15.86,7.39, 16.29,7.65, 16.4,7.56, 16.57,7.31, 16.66,8.1, 16.72,7.73, 16.83,7.06, 16.94,6.97, 17.27,7.14, 17.37,7.31, 17.48,7.39, 17.59,7.22, 17.7,7.39, 18.35,7.22, 18.46,7.47, 18.52,6.81, 18.61,7.06, 18.67,6.74, 18.78,6.89, 18.85,6.97, 19.21,7.14, 19.32,6.58, 19.43,6.89, 19.54,7.31, 19.65,7.73, 19.76,7.22, 20.19,7.56, 20.25,6.29, 20.34,6.36, 20.51,6.97, 20.62,6.89, 20.73,7.65, 21.16,7.14, 21.27,6.89, 21.38,6.97, 21.59,7.06, 21.64,6.81, 21.7,6.97, 22.14,7.73, 22.35,6.81, 22.42,6.0, 22.5,6.5, 22.57,7.06, 22.68,7.14];

const WAL_COND_C = [6.55,26.8, 6.66,28.9, 7.63,27.8, 7.68,27.3, 8.56,26.3, 8.65,27.3, 9.58,25.8, 9.63,27.3, 9.69,29.9, 10.56,27.3, 10.66,29.4, 10.73,31.1, 11.57,28.4, 11.64,29.4, 11.75,28.9, 12.57,29.9, 12.66,31.7, 12.72,33.0, 13.26,52.6, 13.3,43.6];
const WAL_COND_I = [13.52,28.9, 13.59,31.7, 13.65,33.5, 13.69,37.5, 13.74,38.9, 13.8,40.1, 13.95,36.2, 13.95,55.7, 14.56,34.1, 14.67,40.1, 14.73,41.2, 14.82,42.8, 14.99,47.9, 15.38,66.9, 15.38,59.8, 15.53,33.0, 15.64,36.2, 15.69,38.9, 15.75,41.9, 15.9,45.2, 16.29,63.0, 16.29,52.6, 16.51,40.1, 16.62,38.9, 16.57,34.8, 16.62,33.5, 16.9,46.0, 17.27,68.1, 17.33,62.0, 17.37,55.7, 17.53,34.1, 17.59,33.0, 17.7,42.8, 18.35,72.2, 18.39,68.1, 18.56,41.2, 18.67,42.8, 18.78,43.6, 18.52,36.4, 19.28,65.8, 19.32,61.0, 19.37,55.7, 19.54,39.4, 19.58,37.0, 20.19,59.1, 20.3,54.5, 20.36,70.9, 20.56,34.8, 20.66,38.9, 21.16,61.0, 21.27,59.1, 21.23,49.8, 21.59,34.8, 21.7,37.0, 22.14,62.0, 22.35,61.0, 22.35,56.6, 22.18,48.8, 22.53,33.5, 22.61,38.3, 22.68,38.9];
const WAL_HARD_C = [6.55,13.8, 6.66,13.2, 7.59,11.9, 7.68,11.4, 8.56,11.4, 8.65,11.7, 9.54,11.4, 9.63,12.1, 9.73,12.4, 10.56,11.9, 10.66,12.9, 10.73,13.8, 11.57,11.9, 11.68,11.7, 11.75,12.1, 11.64,4.92, 12.57,11.9, 12.66,12.9, 12.72,14.6, 13.26,25.3, 13.3,20.5];
const WAL_HARD_I = [13.52,12.6, 13.59,14.0, 13.69,15.5, 13.8,16.6, 13.91,7.81, 13.98,25.3, 14.56,14.6, 14.67,15.6, 14.78,16.6, 14.95,17.7, 15.38,28.6, 15.38,25.9, 15.53,14.0, 15.64,16.6, 15.75,17.7, 15.9,18.8, 16.29,25.9, 16.29,21.8, 16.51,14.0, 16.62,15.9, 16.62,18.4, 16.9,18.8, 17.27,25.9, 17.33,24.2, 17.59,22.7, 17.53,14.3, 17.7,16.9, 18.35,31.7, 18.39,29.2, 18.56,15.6, 18.67,17.3, 18.78,18.4, 18.85,19.2, 19.28,29.2, 19.37,27.5, 19.39,24.2, 19.54,15.5, 19.65,15.9, 20.19,25.3, 20.3,22.7, 20.36,31.1, 20.58,15.5, 20.62,16.9, 20.73,17.7, 21.23,27.0, 21.27,25.3, 21.23,21.8, 21.59,15.5, 21.7,14.6, 22.14,21.8, 22.35,27.0, 22.35,24.2, 22.53,15.5, 22.61,14.3, 22.68,15.9];
const WAL_ALK_C = [6.55,8.35, 6.66,9.5, 7.63,9.5, 7.68,9.1, 8.56,9.1, 8.65,9.2, 9.54,8.2, 9.58,9.2, 9.69,9.9, 9.75,10.2, 10.56,8.8, 10.62,9.3, 10.71,10.2, 10.77,10.9, 11.57,11.4, 11.64,22.5, 11.7,12.2, 12.57,12.1, 12.66,12.8, 12.72,13.1, 13.26,20.3, 13.3,16.5];
const WAL_ALK_I = [13.52,10.5, 13.59,10.9, 13.69,11.5, 13.8,13.9, 13.91,14.7, 13.98,21.2, 14.56,11.5, 14.67,12.1, 14.78,12.8, 14.95,13.9, 15.38,25.3, 15.38,22.6, 15.53,11.7, 15.64,12.4, 15.75,13.9, 15.9,14.3, 16.29,21.8, 16.29,16.8, 16.51,10.8, 16.62,11.4, 16.62,12.1, 16.68,12.8, 16.9,13.9, 17.27,20.3, 17.33,21.5, 17.37,17.2, 17.53,11.5, 17.55,12.2, 17.7,14.3, 18.35,25.3, 18.39,23.8, 18.56,11.9, 18.67,13.9, 18.78,14.1, 19.28,24.5, 19.37,23.1, 19.39,21.0, 19.54,11.7, 19.65,14.7, 20.19,20.1, 20.3,23.1, 20.36,17.7, 20.73,21.8, 20.66,19.8, 20.58,11.3, 20.66,12.2, 21.23,21.5, 21.27,16.5, 21.38,19.0, 21.59,11.1, 21.7,11.1, 22.14,15.6, 22.35,20.1, 22.35,18.2, 22.53,10.9, 22.61,12.1, 22.68,11.9];
const WAL_PHLAB_C = [6.55,7.3, 6.66,7.09, 7.59,7.27, 7.68,7.3, 8.56,7.3, 8.65,7.3, 9.58,6.96, 9.63,7.07, 9.69,7.2, 10.56,7.4, 10.66,7.44, 10.77,7.36, 11.57,7.47, 11.68,7.4, 12.57,7.44, 12.66,7.33, 13.26,7.27, 13.3,7.2];
const WAL_PHLAB_I = [13.52,7.09, 13.59,7.97, 13.65,8.3, 13.69,8.17, 13.8,7.47, 13.91,7.54, 13.98,7.14, 14.56,6.74, 14.67,6.81, 14.78,6.7, 14.88,6.86, 15.04,7.0, 15.38,7.2, 15.53,7.5, 15.64,7.33, 15.75,7.27, 15.9,7.3, 16.29,6.96, 16.51,7.2, 16.62,7.27, 16.72,7.33, 16.94,7.27, 17.27,7.07, 17.37,7.2, 17.55,7.33, 17.7,7.4, 18.35,7.54, 18.46,7.47, 18.56,7.4, 18.78,7.4, 19.21,7.5, 19.37,7.47, 19.54,7.33, 19.65,7.2, 20.19,7.2, 20.3,7.09, 20.51,7.2, 20.66,7.27, 21.16,7.3, 21.27,7.2, 21.44,7.22, 21.66,7.3, 22.14,7.33, 22.24,7.4, 22.35,7.33, 22.53,7.27, 22.68,7.27];
const WAL_PHF_C = [7.59,6.36, 7.68,6.43, 8.56,6.81, 8.65,7.82, 9.54,7.91, 9.58,7.65, 9.63,7.22, 9.69,8.2, 9.73,8.29, 10.56,8.05, 10.62,7.73, 10.71,7.47, 10.77,7.14, 10.73,6.97, 11.57,7.91, 11.64,7.73, 11.7,7.47, 12.57,8.78, 12.61,8.14, 12.66,8.05, 12.72,7.22, 12.72,7.03, 13.26,7.09, 13.3,6.58];
const WAL_PHF_I = [13.52,7.03, 13.59,7.25, 13.69,7.39, 13.69,7.87, 13.8,6.97, 13.91,7.14, 13.98,6.74, 14.56,7.65, 14.67,7.56, 14.78,7.39, 14.82,5.8, 14.88,5.87, 14.99,6.97, 15.04,6.81, 15.38,6.97, 15.43,6.58, 15.53,7.31, 15.64,7.56, 15.75,7.82, 15.86,7.22, 15.9,7.39, 16.29,7.22, 16.51,7.31, 16.62,7.56, 16.68,7.73, 16.77,7.39, 16.9,6.89, 17.27,7.39, 17.37,7.31, 17.48,7.06, 17.55,7.22, 17.7,7.47, 18.35,7.47, 18.46,6.97, 18.52,6.58, 18.56,6.29, 18.67,7.14, 18.78,7.47, 18.85,6.81, 19.28,7.52, 19.37,6.97, 19.5,7.14, 19.65,7.31, 20.19,6.74, 20.3,6.66, 20.45,7.06, 20.62,7.14, 20.66,6.97, 20.73,6.81, 21.16,6.81, 21.27,6.66, 21.38,6.89, 21.59,7.06, 21.66,6.74, 22.14,7.47, 22.18,6.36, 22.31,6.21, 22.35,6.07, 22.53,6.89, 22.61,7.14, 22.68,7.06];

// control / impact per [row][site]
const CONTROL = [
  [INUG_COND, PDL_COND, TPN_COND_C, TPE_COND_C, SP_COND_C, WAL_COND_C],
  [INUG_HARD, PDL_HARD, TPN_HARD_C, TPE_HARD_C, SP_HARD_C, WAL_HARD_C],
  [INUG_ALK, PDL_ALK, TPN_ALK_C, TPE_ALK_C, SP_ALK_C, WAL_ALK_C],
  [INUG_PHLAB, PDL_PHLAB, TPN_PHLAB_C, TPE_PHLAB_C, SP_PHLAB_C, WAL_PHLAB_C],
  [INUG_PHF, PDL_PHF, TPN_PHF_C, TPE_PHF_C, SP_PHF_C, WAL_PHF_C],
];
const IMPACT = [
  [[], [], TPN_COND_I, TPE_COND_I, SP_COND_I, WAL_COND_I],
  [[], [], TPN_HARD_I, TPE_HARD_I, SP_HARD_I, WAL_HARD_I],
  [[], [], TPN_ALK_I, TPE_ALK_I, SP_ALK_I, WAL_ALK_I],
  [[], [], TPN_PHLAB_I, TPE_PHLAB_I, SP_PHLAB_I, WAL_PHLAB_I],
  [[], [], TPN_PHF_I, TPE_PHF_I, SP_PHF_I, WAL_PHF_I],
];

const ROW_TICKS = [COND_TICKS, HARD_TICKS, ALK_TICKS, PHLAB_TICKS, PHF_TICKS];
const ROW_MINOR = [COND_MINOR, HARD_MINOR, ALK_MINOR, PHLAB_MINOR, PHF_MINOR];

const RED = "#FF0000";
const BLUE = "#0000FF";
const BLACK = "#1A1A1A";
const LONGDASH = "20 8";
const SHORTDASH = "9 9";

type HLine = { y: number; color: string; dash: string; w: number };

function linesFor(row: number, site: number): HLine[] {
  const out: HLine[] = [];
  const red = (y: number) => out.push({ y, color: RED, dash: LONGDASH, w: 2.8 });
  const blue = (y: number | null) => { if (y != null) out.push({ y, color: BLUE, dash: LONGDASH, w: 2.8 }); };
  const black = (y: number) => out.push({ y, color: BLACK, dash: SHORTDASH, w: 2.4 });
  if (row === 0) red(COND_TRIGGER[site]);
  if (row === 1) { red(HARD_TRIGGER[site]); blue(HARD_FEIS[site]); }
  if (row === 2) { red(ALK_TRIGGER[site]); blue(ALK_FEIS[site]); }
  if (row === 3) { black(PH_THRESHOLD[site]); red(PHLAB_TRIGGER_HI[site]); red(PHLAB_TRIGGER_LO[site]); }
  if (row === 4) { black(PH_THRESHOLD[site]); red(PHF_TRIGGER_HI[site]); red(PHF_TRIGGER_LO[site]); }
  return out;
}

const toPoints = (flat: number[]) => {
  const pts: { x: number; y: number }[] = [];
  for (let i = 0; i < flat.length; i += 2) pts.push({ x: BASE_YEAR + flat[i], y: flat[i + 1] });
  return pts;
};

const dot = (fill: string) => (p: any) =>
  p.cx == null ? <g /> : <circle cx={p.cx} cy={p.cy} r={4.8} fill={fill} stroke="#000" strokeWidth={1.2} />;
const greenDot = dot("#00EE00");
const orangeDot = dot("#FFA500");

const YearTick = (p: any) => {
  const x = p.x + 21.5;
  const y = PAD_T + PANEL_H + 15;
  return (
    <text x={x} y={y} transform={`rotate(-90, ${x}, ${y})`} textAnchor="end" fontSize={17.5} fill="#4D4D4D" fontFamily={FONT}>
      {p.payload.value}
    </text>
  );
};

function Panel({ row, site }: { row: number; site: number }) {
  const showY = site === 0;
  const showX = row === PARAMS.length - 1;
  const yW = showY ? 75 : 0;
  const xH = showX ? 70 : 0;
  const left = COL_X0 + site * COL_STEP - yW;
  const top = ROW_Y0 + row * ROW_STEP - PAD_T;
  const ticks = ROW_TICKS[row];
  const fmt = (v: number) => (row === 3 ? v.toFixed(1) : String(v));
  return (
    <div style={{ position: "absolute", left, top }}>
      <ScatterChart width={PANEL_W + yW + PAD_R} height={PAD_T + PANEL_H + xH} margin={{ top: PAD_T, right: PAD_R, bottom: 0, left: 0 }}>
        <CartesianGrid stroke="#EBEBEB" strokeWidth={1.1} horizontalValues={ROW_MINOR[row]} verticalValues={YEAR_MINOR} />
        <CartesianGrid stroke="#EBEBEB" strokeWidth={2.2} horizontalValues={ticks} verticalValues={YEARS} />
        <XAxis
          type="number" dataKey="x" domain={X_DOMAIN} allowDataOverflow ticks={YEARS} interval={0}
          hide={!showX} height={xH} axisLine={false} tickSize={6}
          tickLine={{ stroke: "#333333", strokeWidth: 2 }} tick={<YearTick />}
        />
        <YAxis
          type="number" dataKey="y" scale="log" domain={ROW_DOMAINS[row]} allowDataOverflow ticks={ticks} interval={0}
          hide={!showY} width={yW} axisLine={false} tickSize={6} tickMargin={8}
          tickLine={{ stroke: "#333333", strokeWidth: 2 }} tickFormatter={fmt}
          tick={{ fontSize: 17.5, fill: "#4D4D4D", fontFamily: FONT }}
        />
        {linesFor(row, site).map((l, k) => (
          <ReferenceLine key={k} y={l.y} stroke={l.color} strokeWidth={l.w} strokeDasharray={l.dash} />
        ))}
        <Scatter data={toPoints(CONTROL[row][site])} shape={greenDot} isAnimationActive={false} />
        <Scatter data={toPoints(IMPACT[row][site])} shape={orangeDot} isAnimationActive={false} />
      </ScatterChart>
    </div>
  );
}

function Legend() {
  const y = 20;
  const txt = (x: number, s: string) => (
    <text x={x} y={y + 7} fontSize={20} fontFamily={FONT} fill="#000">{s}</text>
  );
  return (
    <svg width={2903} height={42} style={{ position: "absolute", left: 0, top: 0 }}>
      <circle cx={980} cy={y} r={4.5} fill="none" stroke="#000" strokeWidth={1.6} />
      {txt(1014, "Value")}
      <polygon points={`1100,${y - 6} 1106,${y + 5} 1094,${y + 5}`} fill="none" stroke="#000" strokeWidth={1.6} />
      {txt(1134, "MDL")}
      <line x1={1227} x2={1260} y1={y} y2={y} stroke={BLUE} strokeWidth={2.8} strokeDasharray={LONGDASH} />
      {txt(1275, "FEIS Prediction")}
      <line x1={1437} x2={1467} y1={y} y2={y} stroke={BLACK} strokeWidth={2.4} strokeDasharray={SHORTDASH} />
      {txt(1487, "Threshold")}
      <line x1={1598} x2={1629} y1={y} y2={y} stroke={RED} strokeWidth={2.8} strokeDasharray={LONGDASH} />
      {txt(1647, "Trigger")}
      <circle cx={1775} cy={y} r={4.8} fill="#00EE00" stroke="#000" strokeWidth={1.2} />
      {txt(1810, "Control")}
      <circle cx={1908} cy={y} r={4.8} fill="#FFA500" stroke="#000" strokeWidth={1.2} />
      {txt(1943, "Impact")}
    </svg>
  );
}

export default function App() {
  return (
    <div style={{ position: "relative", width: 2903, height: 1520, background: "#fff", fontFamily: FONT, overflow: "hidden" }}>
      <style>{`body{margin:0}`}</style>
      <Legend />
      {SITES.map((s, j) => (
        <div key={s} style={{
          position: "absolute", left: COL_X0 + j * COL_STEP, top: 49, width: PANEL_W, height: 48,
          background: "#D9D9D9", border: "2px solid #333333", boxSizing: "border-box",
          display: "flex", alignItems: "center", justifyContent: "center", fontSize: 26, color: "#1A1A1A",
        }}>{s}</div>
      ))}
      {PARAMS.map((p, i) => (
        <div key={p} style={{
          position: "absolute", left: 2837, top: ROW_Y0 + i * ROW_STEP, width: 46, height: PANEL_H,
          background: "#D9D9D9", border: "2px solid #333333", boxSizing: "border-box",
          display: "flex", alignItems: "center", justifyContent: "center",
        }}>
          <span style={{ writingMode: "vertical-rl", fontSize: 26, color: "#1A1A1A", whiteSpace: "nowrap" }}>{p}</span>
        </div>
      ))}
      {PARAMS.map((p, i) => SITES.map((s, j) => <Panel key={p + s} row={i} site={j} />))}
      {PARAMS.map((p, i) => SITES.map((s, j) => (
        <div key={"b" + p + s} style={{
          position: "absolute", left: COL_X0 + j * COL_STEP, top: ROW_Y0 + i * ROW_STEP,
          width: PANEL_W, height: PANEL_H, border: "2px solid #333333", boxSizing: "border-box", pointerEvents: "none",
        }} />
      )))}
      <div style={{ position: "absolute", left: 33, top: 760, transform: "translate(-50%, -50%) rotate(-90deg)", fontSize: 27, whiteSpace: "nowrap", color: "#000" }}>
        Concentration
      </div>
      <div style={{ position: "absolute", left: 1475, top: 1503, transform: "translate(-50%, -50%)", fontSize: 27, color: "#000" }}>
        Year
      </div>
    </div>
  );
}
